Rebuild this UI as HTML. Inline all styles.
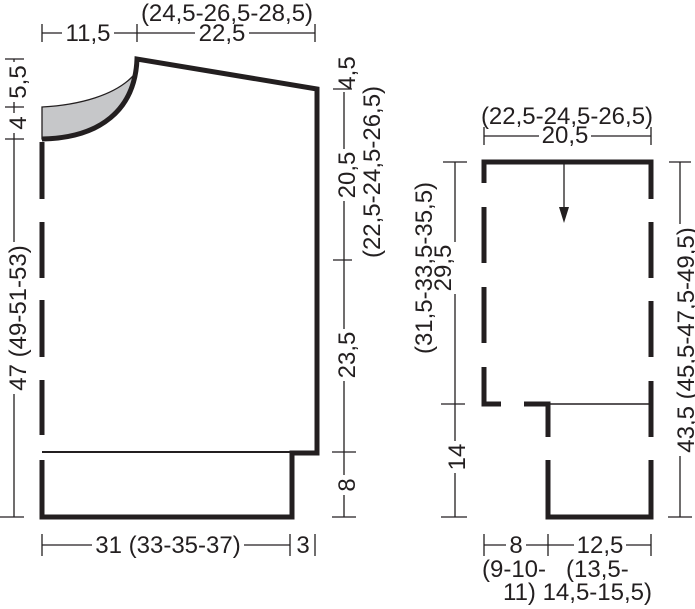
<!DOCTYPE html>
<html><head><meta charset="utf-8"><style>html,body{margin:0;padding:0;background:#fff}svg{display:block}text{font-family:"Liberation Sans",sans-serif;font-size:24px;fill:#231f20}</style></head><body>
<svg width="695" height="609" viewBox="0 0 695 609" xmlns="http://www.w3.org/2000/svg">
<g stroke="#231f20" fill="none" stroke-width="1.3">
<line x1="42" y1="33" x2="62" y2="33"/><line x1="114" y1="33" x2="195" y2="33"/><line x1="249" y1="33" x2="315" y2="33"/>
<line x1="42" y1="24" x2="42" y2="42"/><line x1="137" y1="24" x2="137" y2="42"/><line x1="315" y1="24" x2="315" y2="42"/>
<line x1="14" y1="59" x2="14" y2="62"/><line x1="14" y1="102" x2="14" y2="113"/><line x1="14" y1="133" x2="14" y2="242"/><line x1="14" y1="394" x2="14" y2="517"/>
<line x1="5" y1="59" x2="24" y2="59"/><line x1="5" y1="107" x2="24" y2="107"/><line x1="5" y1="139" x2="24" y2="139"/><line x1="0" y1="517" x2="24" y2="517"/>
<line x1="344" y1="92" x2="344" y2="149"/><line x1="344" y1="201" x2="344" y2="329"/><line x1="344" y1="381" x2="344" y2="475"/><line x1="344" y1="495" x2="344" y2="517"/>
<line x1="333" y1="89" x2="352" y2="89"/><line x1="333" y1="260" x2="352" y2="260"/><line x1="332" y1="452" x2="356" y2="452"/><line x1="332" y1="517" x2="356" y2="517"/>
<line x1="42" y1="545" x2="92" y2="545"/><line x1="244" y1="545" x2="290" y2="545"/>
<line x1="42" y1="534" x2="42" y2="556"/><line x1="290" y1="534" x2="290" y2="556"/><line x1="315" y1="534" x2="315" y2="556"/>
<line x1="484" y1="136" x2="539" y2="136"/><line x1="591" y1="136" x2="651" y2="136"/>
<line x1="484" y1="127" x2="484" y2="145"/><line x1="651" y1="127" x2="651" y2="145"/>
<line x1="455" y1="162" x2="455" y2="242"/><line x1="455" y1="294" x2="455" y2="441"/><line x1="455" y1="473" x2="455" y2="517"/>
<line x1="443" y1="162" x2="467" y2="162"/><line x1="441" y1="404" x2="465" y2="404"/><line x1="441" y1="517" x2="467" y2="517"/>
<line x1="680" y1="162" x2="680" y2="224"/><line x1="680" y1="456" x2="680" y2="517"/>
<line x1="669" y1="162" x2="691" y2="162"/><line x1="668" y1="517" x2="692" y2="517"/>
<line x1="484" y1="545" x2="506" y2="545"/><line x1="526" y1="545" x2="574" y2="545"/><line x1="626" y1="545" x2="651" y2="545"/>
<line x1="484" y1="534" x2="484" y2="556"/><line x1="548" y1="534" x2="548" y2="556"/><line x1="651" y1="534" x2="651" y2="556"/>
<line x1="42" y1="452" x2="292" y2="452" stroke-width="2"/>
<line x1="548" y1="404" x2="651" y2="404" stroke-width="1.5"/>
<line x1="564" y1="164" x2="564" y2="208"/>
</g>
<polygon points="559,207 569,207 564,223" fill="#231f20"/>
<path d="M42,107 C80,105 115,95 133,76 C128,110 95,138 42,139 Z" fill="#c6c7c9" stroke="#231f20" stroke-width="1.3"/>
<g stroke="#231f20" fill="none" stroke-width="5" stroke-linecap="butt">
<path d="M42,139 C100,138 135,110 137,59 L317,89 L317,453 L292,453 L292,517 L42,517 L42,460"/>
<line x1="42" y1="142" x2="42" y2="199"/><line x1="42" y1="222" x2="42" y2="278"/><line x1="42" y1="300" x2="42" y2="357"/><line x1="42" y1="380" x2="42" y2="435"/>
<path d="M484,183 L484,162 L651,162 L651,199"/>
<line x1="484" y1="207" x2="484" y2="263"/><line x1="484" y1="287" x2="484" y2="343"/>
<path d="M484,367 L484,404 L501,404"/>
<path d="M524,404 L548,404 L548,437"/>
<path d="M548,460 L548,517 L651,517 L651,460"/>
<line x1="651" y1="222" x2="651" y2="278"/><line x1="651" y1="301" x2="651" y2="357"/><line x1="651" y1="381" x2="651" y2="437"/>
</g>
<text x="88" y="41" text-anchor="middle">11,5</text>
<text x="222" y="41" text-anchor="middle">22,5</text>
<text x="227" y="21" text-anchor="middle">(24,5-26,5-28,5)</text>
<text transform="translate(26,82) rotate(-90)" text-anchor="middle">5,5</text>
<text transform="translate(26,123) rotate(-90)" text-anchor="middle">4</text>
<text transform="translate(26,318) rotate(-90)" text-anchor="middle">47 (49-51-53)</text>
<text transform="translate(355,73) rotate(-90)" text-anchor="middle">4,5</text>
<text transform="translate(355,175) rotate(-90)" text-anchor="middle">20,5</text>
<text transform="translate(380,172) rotate(-90)" text-anchor="middle">(22,5-24,5-26,5)</text>
<text transform="translate(355,355) rotate(-90)" text-anchor="middle">23,5</text>
<text transform="translate(355,485) rotate(-90)" text-anchor="middle">8</text>
<text x="168" y="553" text-anchor="middle">31 (33-35-37)</text>
<text x="303" y="553" text-anchor="middle">3</text>
<text x="567" y="124" text-anchor="middle">(22,5-24,5-26,5)</text>
<text x="565" y="143" text-anchor="middle">20,5</text>
<text transform="translate(451,268) rotate(-90)" text-anchor="middle">29,5</text>
<text transform="translate(432,268) rotate(-90)" text-anchor="middle">(31,5-33,5-35,5)</text>
<text transform="translate(465,457) rotate(-90)" text-anchor="middle">14</text>
<text transform="translate(694,340) rotate(-90)" text-anchor="middle">43,5 (45,5-47,5-49,5)</text>
<text x="516" y="553" text-anchor="middle">8</text>
<text x="600" y="553" text-anchor="middle">12,5</text>
<text x="482" y="577">(9-10-</text>
<text x="566" y="577">(13,5-</text>
<text x="503" y="600">11) 14,5-15,5)</text>
</svg>
</body></html>
